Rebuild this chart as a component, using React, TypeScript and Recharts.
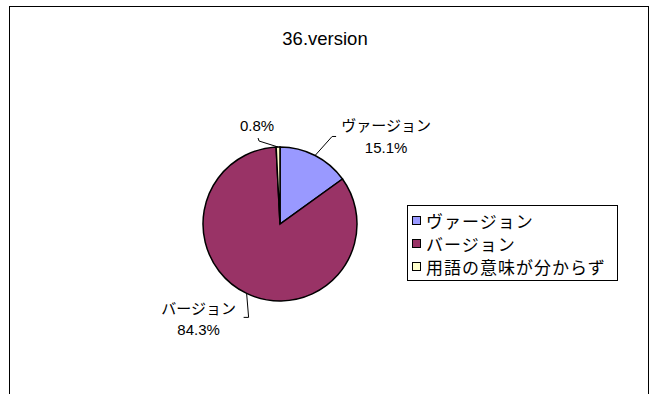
import { Legend, Pie, PieChart, Cell } from "recharts";

const TITLE = "36.version";
const CATEGORIES = ["ヴァージョン", "バージョン", "用語の意味が分からず"];
const VALUES = [15.1, 84.3, 0.8];
const COLORS = ["#9999FF", "#993366", "#FFFFCC"];
// show the category name next to the percentage?
const SHOW_NAME = [true, true, false];

const FONT = '"Liberation Sans", Arial, "Noto Sans CJK JP", sans-serif';

const data = CATEGORIES.map((name, i) => ({ name, value: VALUES[i], color: COLORS[i] }));

// leader line bends and text offsets, relative to the point on the rim
const LABEL_LAYOUT = [
  { bend: [17, -19], end: [21, -19], text: [71, -30], gap: 22 },
  { bend: [2, 24], end: [-3, 24], text: [-48, 15], gap: 21 },
  { bend: [-19, -6], end: [-20, -9], text: [-21, -22], gap: 0 },
];

const RAD = Math.PI / 180;

function renderLabel(props: any) {
  const { cx, cy, midAngle, outerRadius, index } = props;
  const lay = LABEL_LAYOUT[index];
  const x0 = cx + outerRadius * Math.cos(-midAngle * RAD);
  const y0 = cy + outerRadius * Math.sin(-midAngle * RAD);
  const tx = x0 + lay.text[0];
  const ty = y0 + lay.text[1];
  const pct = VALUES[index].toFixed(1) + "%";
  return (
    <g key={"lbl-" + index}>
      <polyline
        points={`${x0},${y0} ${x0 + lay.bend[0]},${y0 + lay.bend[1]} ${x0 + lay.end[0]},${y0 + lay.end[1]}`}
        fill="none"
        stroke="#000"
        strokeWidth={1}
      />
      {SHOW_NAME[index] ? (
        <>
          <text x={tx} y={ty} textAnchor="middle" dominantBaseline="central" fontSize={15} fill="#000" fontFamily={FONT}>
            {CATEGORIES[index]}
          </text>
          <text x={tx} y={ty + lay.gap} textAnchor="middle" dominantBaseline="central" fontSize={15} fill="#000" fontFamily={FONT}>
            {pct}
          </text>
        </>
      ) : (
        <text x={tx} y={ty} textAnchor="middle" dominantBaseline="central" fontSize={15} fill="#000" fontFamily={FONT}>
          {pct}
        </text>
      )}
    </g>
  );
}

function LegendBox() {
  return (
    <div
      style={{
        border: "1px solid #000",
        background: "#fff",
        width: 205,
        padding: "3px 0 2px 4px",
        fontFamily: FONT,
        fontSize: 17,
        letterSpacing: 1,
        color: "#000",
        boxSizing: "content-box",
      }}
    >
      {data.map((d) => (
        <div key={d.name} style={{ display: "flex", alignItems: "center", height: 23 }}>
          <span
            style={{
              display: "inline-block",
              width: 7,
              height: 7,
              background: d.color,
              border: "1px solid #000",
              marginRight: 5,
            }}
          />
          <span>{d.name}</span>
        </div>
      ))}
    </div>
  );
}

export default function App() {
  return (
    <div style={{ position: "absolute", left: 0, top: 0, width: 653, height: 394, overflow: "hidden", background: "#fff" }}>
      <div
        style={{
          position: "absolute",
          left: 9,
          top: 6,
          width: 638,
          height: 420,
          border: "1px solid #000",
        }}
      />
      <div
        style={{
          position: "absolute",
          left: 0,
          top: 28,
          width: 650,
          textAlign: "center",
          fontFamily: FONT,
          fontSize: 18.5,
        }}
      >
        {TITLE}
      </div>
      <div style={{ position: "absolute", left: 0, top: 0 }}>
        <PieChart width={653} height={394}>
          <Pie
            data={data}
            dataKey="value"
            nameKey="name"
            cx={275}
            cy={219}
            outerRadius={77}
            startAngle={90}
            endAngle={-270}
            stroke="#000"
            strokeWidth={1.5}
            label={renderLabel}
            labelLine={false}
            isAnimationActive={false}
          >
            {data.map((d) => (
              <Cell key={d.name} fill={d.color} />
            ))}
          </Pie>
          <Legend
            layout="vertical"
            content={() => <LegendBox />}
            wrapperStyle={{ position: "absolute", left: 407, top: 205, width: "auto" }}
          />
        </PieChart>
      </div>
    </div>
  );
}
